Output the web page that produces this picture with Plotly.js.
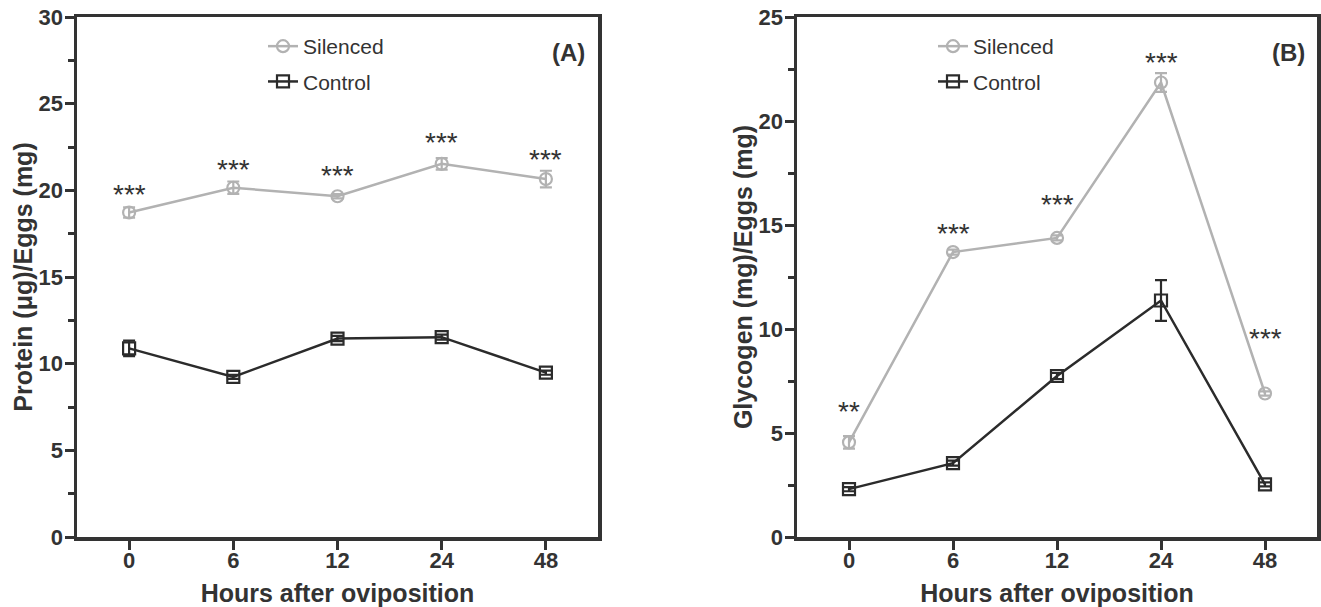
<!DOCTYPE html>
<html>
<head>
<meta charset="utf-8">
<script src="https://cdn.plot.ly/plotly-3.0.1.min.js"></script>
<style>
  html, body { margin: 0; padding: 0; background: #ffffff; }
  #chart { width: 1321px; height: 607px; }
</style>
</head>
<body>
<div id="chart"></div>
<script>
// ---- data ----
const hours = ['0', '6', '12', '24', '48'];

const proteinSilenced    = [18.72, 20.15, 19.66, 21.53, 20.65];
const proteinSilencedErr = [0.30, 0.36, 0.12, 0.33, 0.48];
const proteinControl     = [10.88, 9.24, 11.45, 11.53, 9.48];
const proteinControlErr  = [0.45, 0.12, 0.15, 0.15, 0.12];

const glycogenSilenced    = [4.55, 13.70, 14.38, 21.85, 6.90];
const glycogenSilencedErr = [0.30, 0.12, 0.12, 0.45, 0.10];
const glycogenControl     = [2.30, 3.55, 7.74, 11.37, 2.53];
const glycogenControlErr  = [0.10, 0.12, 0.15, 0.98, 0.10];

const proteinStars  = ['***', '***', '***', '***', '***'];
const proteinStarY  = [20.25, 21.68, 21.30, 23.20, 22.25];
const glycogenStars = ['**', '***', '***', '***', '***'];
const glycogenStarY = [6.40, 15.00, 16.36, 23.20, 9.92];

const seriesNames = ['Silenced', 'Control'];
const yTitles = ['Protein (\u03bcg)/Eggs (mg)', 'Glycogen (mg)/Eggs (mg)'];
const xTitle = 'Hours after oviposition';
const panelLabels = ['(A)', '(B)'];

// ---- styles ----
const GREY = '#b2b2b2';
const DARK = '#2b2b2b';
const AXIS = '#333333';
const FONT = 'Liberation Sans, Arial, sans-serif';

function mkTrace(y, err, name, color, symbol, xa, ya, legend) {
  return {
    type: 'scatter', mode: 'lines+markers',
    x: hours, y: y, name: name,
    xaxis: xa, yaxis: ya, legend: legend, showlegend: true,
    legendgroup: name + legend,
    line: { color: color, width: 2.5 },
    marker: { symbol: symbol, size: 12, color: color, line: { color: color, width: 2.2 } },
    error_y: { type: 'data', array: err, visible: true, color: color, thickness: 2.2, width: 6 },
    cliponaxis: false
  };
}

const traces = [
  mkTrace(proteinSilenced, proteinSilencedErr, seriesNames[0], GREY, 'circle-open', 'x', 'y', 'legend'),
  mkTrace(proteinControl, proteinControlErr, seriesNames[1], DARK, 'square-open', 'x', 'y', 'legend'),
  mkTrace(glycogenSilenced, glycogenSilencedErr, seriesNames[0], GREY, 'circle-open', 'x2', 'y2', 'legend2'),
  mkTrace(glycogenControl, glycogenControlErr, seriesNames[1], DARK, 'square-open', 'x2', 'y2', 'legend2')
];

const W = 1321, H = 607;
const ml = 77, mr = 4, mt = 17, mb = 70;
const pw = W - ml - mr, ph = H - mt - mb;
const px = v => (v - ml) / pw;
const py = v => 1 - (v - mt) / ph;

function xAxis(domain, anchor) {
  return {
    domain: domain, anchor: anchor, type: 'category', range: [-0.5, 4.5],
    showline: true, linecolor: AXIS, linewidth: 3.5, mirror: true,
    ticks: 'outside', ticklen: 9, tickwidth: 3, tickcolor: AXIS,
    ticklabelstandoff: -8,
    showgrid: false, zeroline: false,
    tickfont: { family: FONT, size: 22, color: AXIS, weight: 'bold' },
    title: { text: xTitle, font: { family: FONT, size: 25, color: AXIS, weight: 'bold' }, standoff: 13 },
    fixedrange: true
  };
}
function yAxis(domain, anchor, maxV, title) {
  return {
    domain: domain, anchor: anchor, range: [0, maxV], dtick: 5, tick0: 0,
    showline: true, linecolor: AXIS, linewidth: 3.5, mirror: true,
    ticks: 'outside', ticklen: 9, tickwidth: 3, tickcolor: AXIS,
    ticklabelstandoff: -3,
    minor: { dtick: 2.5, ticks: 'outside', ticklen: 6, tickwidth: 3, tickcolor: AXIS },
    showgrid: false, zeroline: false,
    tickfont: { family: FONT, size: 22, color: AXIS, weight: 'bold' },
    title: { text: title, font: { family: FONT, size: 25, color: AXIS, weight: 'bold' }, standoff: 0 },
    fixedrange: true
  };
}

const annotations = [];
hours.forEach((h, i) => {
  annotations.push({ xref: 'x', yref: 'y', x: i, y: proteinStarY[i], text: proteinStars[i],
    showarrow: false, yshift: -8, font: { family: FONT, size: 28, color: AXIS } });
  annotations.push({ xref: 'x2', yref: 'y2', x: i, y: glycogenStarY[i], text: glycogenStars[i],
    showarrow: false, yshift: -8, font: { family: FONT, size: 28, color: AXIS } });
});
annotations.push({ xref: 'paper', yref: 'paper', x: px(568), y: py(53), xanchor: 'center', yanchor: 'middle',
  text: panelLabels[0], showarrow: false, font: { family: FONT, size: 24, color: AXIS, weight: 'bold' } });
annotations.push({ xref: 'paper', yref: 'paper', x: px(1288), y: py(53), xanchor: 'center', yanchor: 'middle',
  text: panelLabels[1], showarrow: false, font: { family: FONT, size: 24, color: AXIS, weight: 'bold' } });

function legendCfg(xPix) {
  return {
    x: px(xPix), y: py(26), xanchor: 'left', yanchor: 'top',
    bgcolor: 'rgba(0,0,0,0)', borderwidth: 0,
    font: { family: FONT, size: 21, color: AXIS },
    itemwidth: 30, traceorder: 'grouped', tracegroupgap: 5
  };
}

const layout = {
  width: W, height: H,
  margin: { l: ml, r: mr, t: mt, b: mb },
  paper_bgcolor: '#ffffff', plot_bgcolor: '#ffffff',
  showlegend: true,
  xaxis: xAxis([0, px(598)], 'y'),
  yaxis: yAxis([0, 1], 'x', 30, yTitles[0]),
  xaxis2: xAxis([px(797), 1], 'y2'),
  yaxis2: yAxis([0, 1], 'x2', 25, yTitles[1]),
  legend: legendCfg(263),
  legend2: legendCfg(933),
  annotations: annotations
};

Plotly.newPlot('chart', traces, layout, { displayModeBar: false, staticPlot: true });
</script>
</body>
</html>
